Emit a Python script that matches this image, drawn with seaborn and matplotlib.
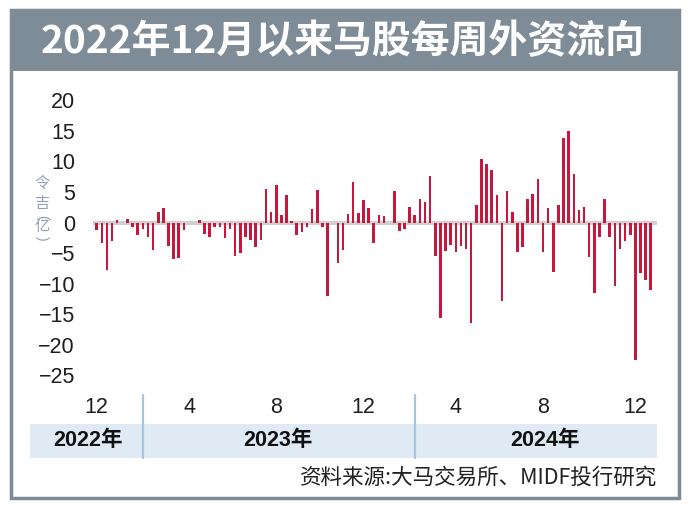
import numpy as np
import pandas as pd
import matplotlib
matplotlib.use("Agg")
import matplotlib.pyplot as plt
import matplotlib.transforms as mtransforms
from matplotlib.patches import Rectangle
from matplotlib.lines import Line2D
import seaborn as sns

# ---------------- data ----------------
title = "2022年12月以来马股每周外资流向"
y_label_chars = ["令", "吉", "亿"]
source = "资料来源:大马交易所、MIDF投行研究"
year_labels = ["2022年", "2023年", "2024年"]
month_tick_labels = ["12", "4", "8", "12", "4", "8", "12"]
month_tick_dates = ["2022-12", "2023-04", "2023-08", "2023-12", "2024-04", "2024-08", "2024-12"]
y_ticks = [20, 15, 10, 5, 0, -5, -10, -15, -20, -25]

# weekly net foreign flow (RM 100 million), first week Dec 2022 .. last week Dec 2024
flows = [
    -1.2, -3.4, -7.7, -3.0, 0.4, 0.0, 0.5, -0.8, -2.1, -1.1,
    -2.3, -4.5, 1.7, 2.4, -3.9, -6.0, -5.8, -1.3, 0.0, 0.0,
    0.4, -1.8, -2.3, -0.7, -0.8, -2.6, -1.0, -5.5, -5.0, -2.4,
    -2.9, -4.0, -2.9, 5.5, 1.7, 6.2, 1.2, 4.5, 0.2, -2.0,
    -1.6, -0.7, 2.2, 5.4, -0.8, -12.1, 0.0, -6.6, -4.5, 1.4,
    6.7, 1.5, 3.7, 2.4, -3.3, 1.2, 1.0, 0.0, 5.1, -1.4,
    -1.1, 2.5, 1.2, 3.8, 3.3, 7.6, -5.5, -15.6, -4.6, -3.6,
    -4.8, -3.9, -4.3, -16.5, 2.8, 10.4, 9.5, 8.6, 4.5, -12.9,
    5.2, 1.8, -4.9, -4.0, 3.9, 4.6, 7.2, -4.8, 2.3, -8.1,
    2.8, 13.9, 14.9, 7.9, 2.0, 2.6, -5.7, -11.5, -2.4, 3.8,
    -2.4, -10.4, -4.4, -3.1, -2.0, -22.5, -8.2, -9.4, -11.1,
]

weeks = pd.date_range("2022-12-02", periods=len(flows), freq="W-FRI")
df = pd.DataFrame({"week": np.arange(len(flows)), "flow": flows})

# ---------------- styling ----------------
sns.set_theme(style="white")
plt.rcParams["font.family"] = ["Liberation Sans", "Noto Sans CJK SC", "DejaVu Sans"]
plt.rcParams["axes.unicode_minus"] = True

W, H = 690, 517
fig = plt.figure(figsize=(W / 100, H / 100), dpi=100)
fig.patch.set_facecolor("white")

def fx(px):
    return px / W

def fy(py):
    return 1 - py / H

GRAY = "#7e8c97"
BAR = "#c8173c"

# frame and title bar
fig.add_artist(Rectangle((fx(11), fy(71)), fx(679) - fx(11), fy(10) - fy(71),
                         transform=fig.transFigure, facecolor=GRAY, edgecolor="none", zorder=0))
fig.add_artist(Rectangle((fx(11), fy(498)), fx(679) - fx(11), fy(10) - fy(498),
                         transform=fig.transFigure, facecolor="none", edgecolor=GRAY, lw=2.5, zorder=5))
fig.text(fx(343), fy(42), title, color="white", fontsize=28, fontweight="bold",
         ha="center", va="center", family=["Noto Sans CJK SC"])

# main axes
left, right, top, bottom = 93, 657, 90, 390
ax = fig.add_axes([fx(left), fy(bottom), (right - left) / W, (bottom - top) / H])
ax.set_facecolor("none")

sns.barplot(data=df, x="week", y="flow", color=BAR, saturation=1, width=0.5,
            linewidth=0, ax=ax, zorder=3)
ax.axhline(0, color="#d0d0d0", lw=3, zorder=1)

ax.set_xlim(-0.72, 109.22)
ax.set_ylim(-27.41, 21.69)
for s in ax.spines.values():
    s.set_visible(False)

ax.set_yticks(y_ticks)
ax.set_yticklabels([f"{v}".replace("-", "\u2212") for v in y_ticks])
tick_pos = [int(np.argmax((weeks.strftime("%Y-%m") == m))) for m in month_tick_dates]
ax.set_xticks(tick_pos)
ax.set_xticklabels(month_tick_labels)
ax.tick_params(axis="y", length=0, pad=13, labelsize=15.5, labelcolor="#1e1e1e")
ax.tick_params(axis="x", length=0, pad=5, labelsize=15.5, labelcolor="#1e1e1e")
ax.set_xlabel("")
ax.set_ylabel("")
ax.grid(False)

# y label (vertical stacked)
ycol = "#8fa0b6"
fig.text(fx(42), fy(183), y_label_chars[0], color=ycol, fontsize=11, ha="center", va="center",
         family=["Noto Sans CJK SC"])
fig.text(fx(42), fy(204), y_label_chars[1], color=ycol, fontsize=11, ha="center", va="center",
         family=["Noto Sans CJK SC"])
fig.text(fx(42), fy(217), "(", color=ycol, fontsize=10, ha="center", va="center", rotation=-90,
         family=["Liberation Sans"])
fig.text(fx(42), fy(227), y_label_chars[2], color=ycol, fontsize=11, ha="center", va="center",
         family=["Noto Sans CJK SC"])
fig.text(fx(42), fy(238), ")", color=ycol, fontsize=10, ha="center", va="center", rotation=-90,
         family=["Liberation Sans"])

# year band
fig.add_artist(Rectangle((fx(30), fy(458)), fx(657) - fx(30), fy(424) - fy(458),
                         transform=fig.transFigure, facecolor="#dfeaf4", edgecolor="none", zorder=0))
trans = mtransforms.blended_transform_factory(ax.transData, fig.transFigure)
for xd in [9.0, 62.0]:
    fig.add_artist(Line2D([xd, xd], [fy(395), fy(458)], transform=trans,
                          color="#a8c5df", lw=1.6, zorder=2))
for lab, px in zip(year_labels, [88, 278, 545]):
    fig.text(fx(px), fy(441), lab, fontsize=15.5, fontweight="bold", color="#111111",
             ha="center", va="center", family=["Liberation Sans", "Noto Sans CJK SC"])

# source
fig.text(fx(657), fy(478), source, fontsize=15.5, color="#222222", ha="right", va="center",
         family=["Noto Sans CJK SC"])

fig.savefig("out.png", dpi=100)
